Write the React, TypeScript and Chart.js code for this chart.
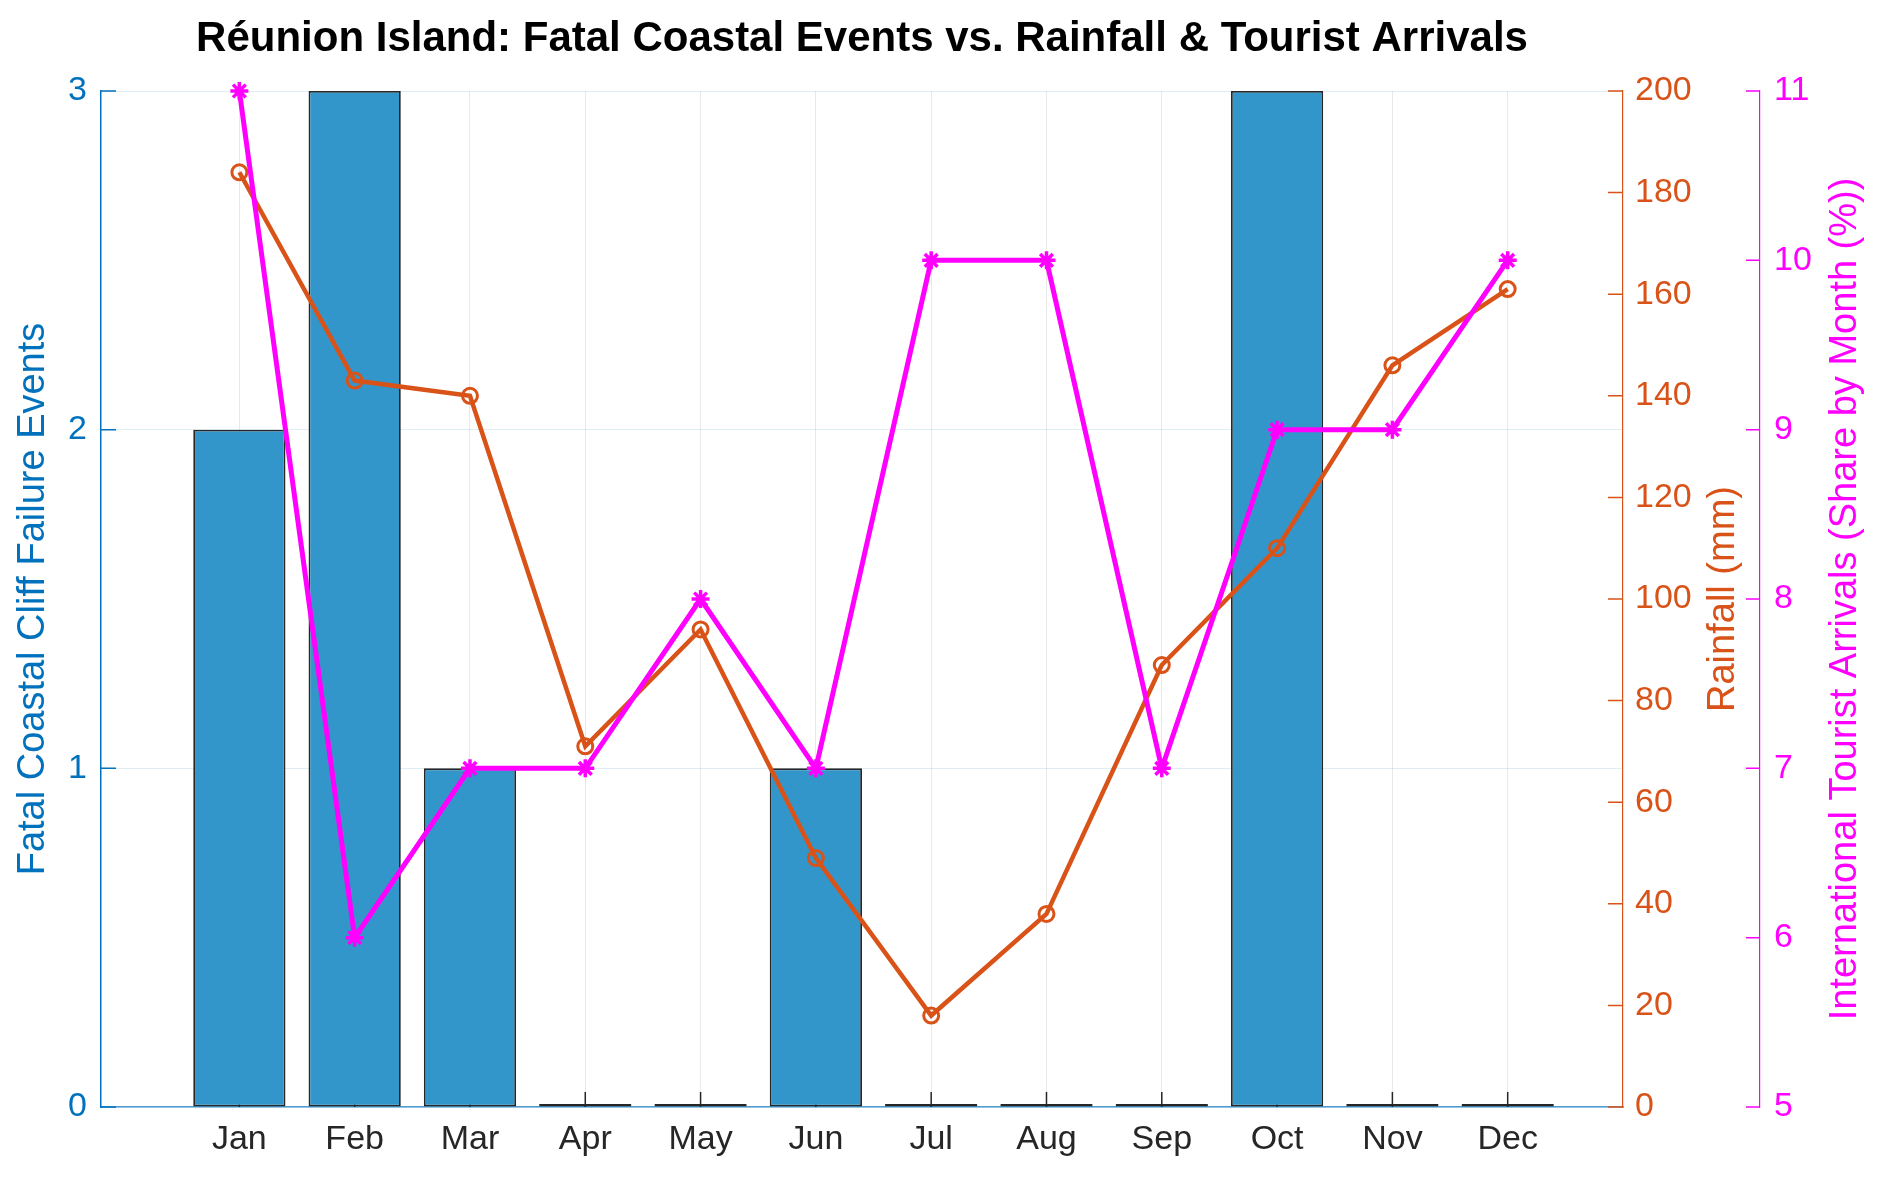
import React, { useEffect, useRef } from 'react';
import { Chart, registerables } from 'chart.js';

Chart.register(...registerables);

const months = ['Jan', 'Feb', 'Mar', 'Apr', 'May', 'Jun', 'Jul', 'Aug', 'Sep', 'Oct', 'Nov', 'Dec'];
const cliffEvents = [2, 3, 1, 0, 0, 1, 0, 0, 0, 3, 0, 0];
const rainfallMm = [184, 143, 140, 71, 94, 49, 18, 38, 87, 110, 146, 161];
const touristShare = [11, 6, 7, 7, 8, 7, 10, 10, 7, 9, 9, 10];

const FONT = "'Liberation Sans', Arial, Helvetica, sans-serif";
const BLUE = '#0072BD';
const ORANGE = '#D95319';
const MAGENTA = '#FF00FF';
const DARK = '#262626';
const TICK = 15;

// inward tick marks (matlab style) + the two right hand axis titles
const axisDecor = {
  id: 'axisDecor',
  beforeDatasetsDraw(chart: any) {
    const { ctx, chartArea, scales } = chart;
    const { x, y, y1, y2 } = scales;
    ctx.save();
    ctx.lineWidth = 1.5;

    ctx.strokeStyle = DARK;
    ctx.beginPath();
    x.ticks.forEach((t: any) => {
      const px = x.getPixelForValue(t.value);
      ctx.moveTo(px, chartArea.bottom);
      ctx.lineTo(px, chartArea.bottom - TICK);
    });
    ctx.stroke();

    ctx.strokeStyle = BLUE;
    ctx.beginPath();
    y.ticks.forEach((t: any) => {
      const py = y.getPixelForValue(t.value);
      ctx.moveTo(chartArea.left, py);
      ctx.lineTo(chartArea.left + TICK, py);
    });
    ctx.stroke();

    ctx.strokeStyle = ORANGE;
    ctx.beginPath();
    y1.ticks.forEach((t: any) => {
      const py = y1.getPixelForValue(t.value);
      ctx.moveTo(chartArea.right, py);
      ctx.lineTo(chartArea.right - TICK, py);
    });
    ctx.stroke();

    ctx.strokeStyle = MAGENTA;
    ctx.beginPath();
    y2.ticks.forEach((t: any) => {
      const py = y2.getPixelForValue(t.value);
      ctx.moveTo(y2.left, py);
      ctx.lineTo(y2.left - 14, py);
    });
    ctx.stroke();
    ctx.restore();
  },
  afterDraw(chart: any) {
    const { ctx, chartArea, scales } = chart;
    const cy = (chartArea.top + chartArea.bottom) / 2;
    const vTitle = (text: string, cx: number, color: string) => {
      ctx.save();
      ctx.translate(cx, cy);
      ctx.rotate(-Math.PI / 2);
      ctx.fillStyle = color;
      ctx.font = `38px ${FONT}`;
      ctx.textAlign = 'center';
      ctx.textBaseline = 'middle';
      ctx.fillText(text, 0, 0);
      ctx.restore();
    };
    vTitle('Rainfall (mm)', scales.y1.left + 101, ORANGE);
    vTitle('International Tourist Arrivals (Share by Month (%))', scales.y2.left + 86, MAGENTA);
  },
};

const CliffChart: React.FC = () => {
  const chartRef = useRef<HTMLCanvasElement>(null);

  useEffect(() => {
    if (!chartRef.current) return;
    Chart.defaults.font.family = FONT;

    const chart = new Chart(chartRef.current, {
      type: 'bar',
      data: {
        datasets: [
          {
            type: 'line',
            label: 'Tourist arrivals',
            data: months.map((_, i) => ({ x: i + 1, y: touristShare[i] })),
            yAxisID: 'y2',
            borderColor: MAGENTA,
            borderWidth: 5,
            pointStyle: 'star',
            pointRadius: 9,
            pointBorderWidth: 3.5,
            pointBorderColor: MAGENTA,
            pointBackgroundColor: MAGENTA,
            tension: 0,
            clip: false,
            order: 0,
          } as any,
          {
            type: 'line',
            label: 'Rainfall',
            data: months.map((_, i) => ({ x: i + 1, y: rainfallMm[i] })),
            yAxisID: 'y1',
            borderColor: ORANGE,
            borderWidth: 4.5,
            pointStyle: 'circle',
            pointRadius: 7.5,
            pointBorderWidth: 3,
            pointBorderColor: ORANGE,
            pointBackgroundColor: 'rgba(255,255,255,0)',
            tension: 0,
            clip: false,
            order: 1,
          } as any,
          {
            type: 'bar',
            label: 'Fatal events',
            data: months.map((_, i) => ({ x: i + 1, y: cliffEvents[i] })),
            yAxisID: 'y',
            backgroundColor: '#3396CB',
            borderColor: DARK,
            borderWidth: 1.8,
            borderSkipped: false,
            minBarLength: 3,
            barPercentage: 0.8,
            categoryPercentage: 1,
            order: 2,
          } as any,
        ],
      },
      options: {
        animation: false,
        responsive: true,
        maintainAspectRatio: false,
        layout: { padding: 0 },
        plugins: {
          legend: { display: false },
          tooltip: { enabled: false },
          title: {
            display: true,
            fullSize: false,
            text: 'Réunion Island: Fatal Coastal Events vs. Rainfall & Tourist Arrivals',
            color: '#000',
            font: { size: 42, weight: 'bold' },
            padding: { top: 14, bottom: 26.6 },
          },
        },
        scales: {
          x: {
            type: 'linear',
            min: -0.2,
            max: 13,
            offset: false,
            afterBuildTicks: (scale: any) => {
              scale.ticks = months.map((_, i) => ({ value: i + 1 }));
            },
            afterFit: (scale: any) => {
              scale.height = 78;
            },
            ticks: {
              autoSkip: false,
              maxRotation: 0,
              padding: 12,
              color: DARK,
              font: { size: 34 },
              callback: (v: any) => months[Number(v) - 1] ?? '',
            },
            grid: { offset: false, drawTicks: false, tickLength: 0, color: 'rgba(38,38,38,0.1)', lineWidth: 1 },
            border: { color: '#4d9bd0', width: 1.5 },
          },
          y: {
            position: 'left',
            min: 0,
            max: 3,
            afterFit: (scale: any) => {
              scale.width = 101;
            },
            ticks: { stepSize: 1, padding: 14, color: BLUE, font: { size: 34 } },
            grid: { drawTicks: false, tickLength: 0, color: 'rgba(0,114,189,0.13)', lineWidth: 1 },
            border: { color: BLUE, width: 1.5 },
            title: {
              display: true,
              text: 'Fatal Coastal Cliff Failure Events',
              color: BLUE,
              font: { size: 38 },
              padding: { top: 11, bottom: 0 },
            },
          },
          y1: {
            position: 'right',
            weight: 0,
            min: 0,
            max: 200,
            afterFit: (scale: any) => {
              scale.width = 137;
            },
            ticks: { stepSize: 20, padding: 12, color: ORANGE, font: { size: 34 } },
            grid: { display: false, drawTicks: false, tickLength: 0 },
            border: { color: ORANGE, width: 1.2 },
          },
          y2: {
            position: 'right',
            weight: 1,
            min: 5,
            max: 11,
            afterFit: (scale: any) => {
              scale.width = 132;
            },
            ticks: { stepSize: 1, padding: 14, color: MAGENTA, font: { size: 34 } },
            grid: { display: false, drawTicks: false, tickLength: 0 },
            border: { color: MAGENTA, width: 1.2 },
          },
        },
      } as any,
      plugins: [axisDecor],
    });

    return () => {
      chart.destroy();
    };
  }, []);

  return (
    <div style={{ position: 'fixed', left: 0, top: 0, width: 1892, height: 1185, background: '#fff' }}>
      <canvas ref={chartRef} />
    </div>
  );
};

export default function App() {
  return <CliffChart />;
}
